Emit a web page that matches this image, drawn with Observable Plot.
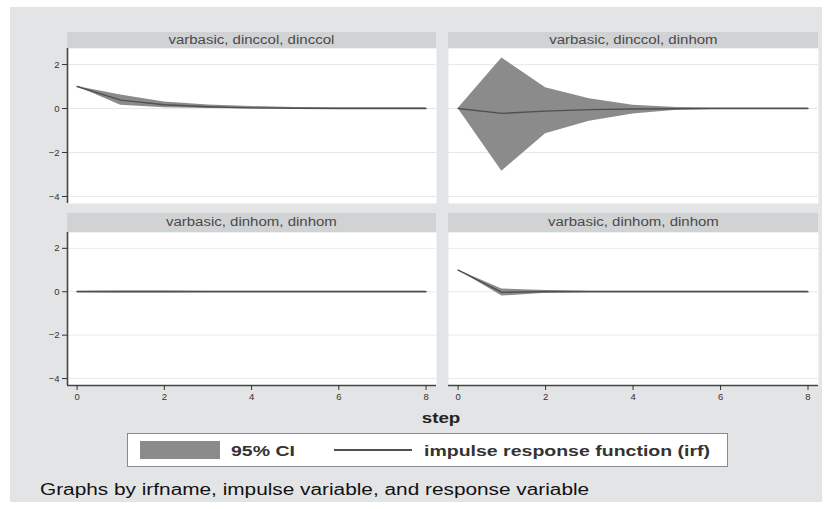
<!DOCTYPE html>
<html><head><meta charset="utf-8">
<script src="https://cdn.jsdelivr.net/npm/d3@7"></script>
<script src="https://cdn.jsdelivr.net/npm/@observablehq/plot@0.6"></script>
<style>
html,body{margin:0;padding:0;background:#fff;}
#wrap{position:relative;width:832px;height:509px;overflow:hidden;background:#fff;font-family:"Liberation Sans",Arial,sans-serif;}
#bg{position:absolute;left:10px;top:7px;width:812px;height:495px;background:#e3e4e6;}
.strip{position:absolute;background:#d1d2d4;color:#4a4a4a;font-size:12px;text-align:center;white-space:nowrap;overflow:hidden;}
.strip span{display:inline-block;transform:scaleX(1.25);}
.pnl{position:absolute;}
.pnl svg{overflow:visible;}
</style></head>
<body><div id="wrap"><div id="bg"></div></div>
<script>
const steps = [0,1,2,3,4,5,6,7,8];
const panelTitles = ["varbasic, dinccol, dinccol","varbasic, dinccol, dinhom","varbasic, dinhom, dinhom","varbasic, dinhom, dinhom"];
// panel 1: dinccol -> dinccol
const irf1 = [1, 0.38, 0.17, 0.08, 0.03, 0.01, 0.0, 0.0, 0.0];
const lo1  = [1, 0.15, 0.04, 0.0, -0.02, -0.03, -0.03, -0.03, -0.03];
const hi1  = [1, 0.62, 0.30, 0.16, 0.09, 0.05, 0.04, 0.03, 0.03];
// panel 2: dinccol -> dinhom
const irf2 = [0, -0.22, -0.12, -0.05, -0.02, -0.01, 0.0, 0.0, 0.0];
const lo2  = [0, -2.85, -1.15, -0.58, -0.25, -0.08, -0.03, -0.02, -0.02];
const hi2  = [0, 2.3, 0.95, 0.45, 0.15, 0.05, 0.02, 0.02, 0.02];
// panel 3: dinhom -> dinhom (left)
const irf3 = [0, 0, 0, 0, 0, 0, 0, 0, 0];
const lo3  = [-0.03, -0.05, -0.05, -0.04, -0.04, -0.04, -0.04, -0.04, -0.04];
const hi3  = [0.03, 0.05, 0.05, 0.04, 0.04, 0.04, 0.04, 0.04, 0.04];
// panel 4: dinhom -> dinhom (right)
const irf4 = [1, -0.03, 0.01, 0.0, 0.0, 0.0, 0.0, 0.0, 0.0];
const lo4  = [1, -0.2, -0.07, -0.04, -0.03, -0.03, -0.03, -0.03, -0.03];
const hi4  = [1, 0.13, 0.06, 0.04, 0.03, 0.03, 0.03, 0.03, 0.03];
const yTicks = [-4,-2,0,2];
const xTicks = [0,2,4,6,8];
const xDom = [-0.22, 8.24];
const yDom = [-4.32, 2.73];
const legendLabels = ["95% CI","impulse response function (irf)"];
const xLabel = "step";
const caption = "Graphs by irfname, impulse variable, and response variable";

const series = [[irf1,lo1,hi1],[irf2,lo2,hi2],[irf3,lo3,hi3],[irf4,lo4,hi4]];
const wrap = document.getElementById("wrap");

const cols = [{x0:67,x1:436},{x0:448,x1:818}];
const rows = [{s0:32,y0:48,y1:203},{s0:213,y0:232,y1:385}];

series.forEach((s,i)=>{
  const r = Math.floor(i/2), c = i%2;
  const data = steps.map((st,k)=>({step:st, irf:s[0][k], lo:s[1][k], hi:s[2][k]}));
  const left = c===0, bottom = r===1;
  const mL = left?30:0, mB = bottom?24:0;
  const W = cols[c].x1-cols[c].x0, H = rows[r].y1-rows[r].y0;
  const marks = [
    Plot.frame({fill:"#fff", stroke:null}),
    Plot.gridY(yTicks, {stroke:"#e6e9ec", strokeOpacity:1}),
    Plot.areaY(data, {x:"step", y1:"lo", y2:"hi", fill:"#8b8b8b", curve:"linear"}),
    Plot.lineY(data, {x:"step", y:"irf", stroke:"#505050", strokeWidth:1.4})
  ];
  if (left) {
    marks.push(Plot.ruleX([xDom[0]], {stroke:"#444", strokeWidth:1.6}));
    marks.push(Plot.axisY(yTicks, {tickSize:5, tickPadding:3, fontSize:9.5, color:"#333", label:null}));
  }
  if (bottom) {
    marks.push(Plot.ruleY([yDom[0]], {stroke:"#444", strokeWidth:1.6}));
    marks.push(Plot.axisX(xTicks, {tickSize:5, tickPadding:3, fontSize:9.5, color:"#333", label:null}));
  }
  const svg = Plot.plot({
    width: W+mL, height: H+mB,
    marginLeft: mL, marginRight: 0, marginTop: 0, marginBottom: mB,
    style: {background:"transparent", fontFamily:"Liberation Sans, Arial, sans-serif"},
    x: {domain:xDom, axis:null},
    y: {domain:yDom, axis:null},
    marks
  });
  const d = document.createElement("div");
  d.className = "pnl";
  d.style.left = (cols[c].x0-mL)+"px";
  d.style.top = rows[r].y0+"px";
  d.appendChild(svg);
  wrap.appendChild(d);
  const st = document.createElement("div");
  st.className = "strip";
  st.style.left = cols[c].x0+"px";
  st.style.width = W+"px";
  st.style.top = rows[r].s0+"px";
  const sh = rows[r].y0-rows[r].s0;
  st.style.height = sh+"px";
  st.style.lineHeight = sh+"px";
  const sp = document.createElement("span");
  sp.textContent = panelTitles[i];
  st.appendChild(sp);
  wrap.appendChild(st);
});

function add(html, css){
  const e = document.createElement("div");
  e.textContent = html;
  e.style.position = "absolute";
  Object.assign(e.style, css);
  wrap.appendChild(e);
  return e;
}
const sx = {transform:"scaleX(1.3)", transformOrigin:"0 0", whiteSpace:"nowrap"};
add(xLabel, {left:"400px", width:"82px", top:"410px", textAlign:"center", fontWeight:"bold", fontSize:"15px", lineHeight:"16px", color:"#222", transform:"scaleX(1.25)", transformOrigin:"50% 0"});
add("", {left:"127px", top:"433px", width:"599px", height:"32px", background:"#fff", border:"1.5px solid #8a8a8a"});
add("", {left:"140px", top:"441px", width:"80px", height:"18px", background:"#8b8b8b"});
add(legendLabels[0], Object.assign({left:"231px", top:"443px", fontWeight:"bold", fontSize:"15px", lineHeight:"16px", color:"#333"}, sx));
add("", {left:"334px", top:"449px", width:"78px", height:"1.5px", background:"#505050"});
add(legendLabels[1], Object.assign({left:"424px", top:"443px", fontWeight:"bold", fontSize:"15px", lineHeight:"16px", color:"#333"}, sx));
add(caption, Object.assign({left:"40px", top:"481px", fontSize:"16px", lineHeight:"18px", color:"#111"}, sx));
</script></body></html>
